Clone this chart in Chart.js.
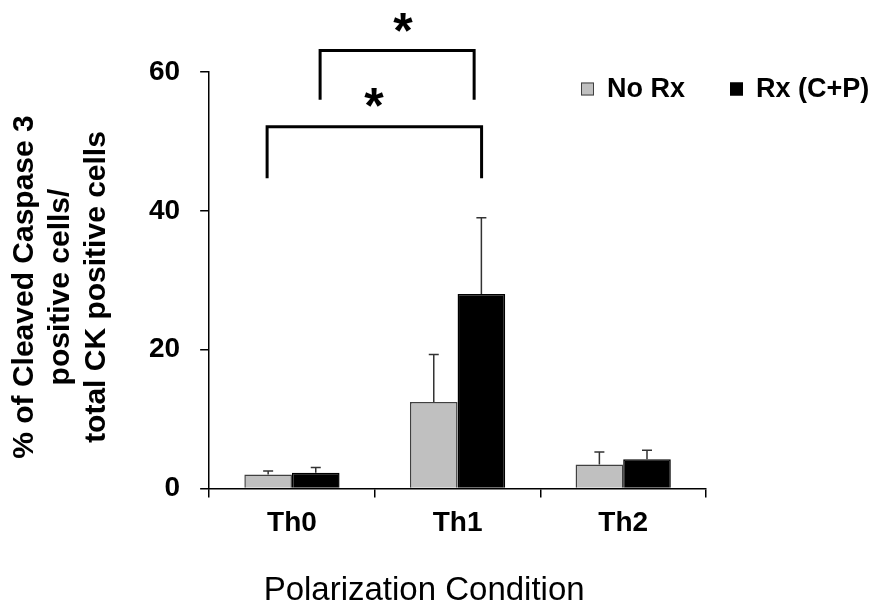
<!DOCTYPE html>
<html><head><meta charset="utf-8">
<script src="https://cdn.jsdelivr.net/npm/chart.js@4.4.0/dist/chart.umd.min.js"></script>
<style>html,body{margin:0;padding:0;background:#fff;} canvas{display:block;}</style>
</head><body>
<canvas id="c" width="882" height="603"></canvas>
<script>
// ---- data ----
const categories = ['Th0', 'Th1', 'Th2'];
const seriesNames = ['No Rx', 'Rx (C+P)'];
const noRxValues = [2.0, 12.45, 3.45];
const noRxErrors = [0.5, 6.85, 1.8];
const rxValues = [2.25, 28.0, 4.2];
const rxErrors = [0.75, 11.0, 1.3];
const yTickValues = [0, 20, 40, 60];
// significance brackets, in category units (x) and value units (y)
const bracketFrom = [-0.15, 0.17];
const bracketTo = [1.145, 1.10];
const bracketLow = [44.7, 56.0];
const bracketHigh = [52.1, 63.1];
const starX = [0.495, 0.67];
const starY = [56.3, 67.1];
const starText = ['*', '*'];
const yTitle = ['% of Cleaved Caspase 3', 'positive cells/', 'total CK positive cells'];
const xTitle = 'Polarization Condition';

const FONT = "'Liberation Sans', Arial, Helvetica, sans-serif";
const colors = ['#C0C0C0', '#000000'];
const borders = ['#404040', '#000000'];

const overlay = {
  id: 'overlay',
  afterDatasetsDraw(chart) {
    const ctx = chart.ctx, ys = chart.scales.y;
    const errs = [noRxErrors, rxErrors];
    ctx.save();
    ctx.strokeStyle = '#333';
    ctx.lineWidth = 1.5;
    chart.data.datasets.forEach((ds, d) => {
      chart.getDatasetMeta(d).data.forEach((el, i) => {
        const top = ys.getPixelForValue(ds.data[i] + errs[d][i]);
        ctx.beginPath();
        ctx.moveTo(el.x, el.y);
        ctx.lineTo(el.x, top);
        ctx.moveTo(el.x - 5, top);
        ctx.lineTo(el.x + 5, top);
        ctx.stroke();
      });
    });
    ctx.restore();
  },
  afterDraw(chart) {
    const ctx = chart.ctx, xs = chart.scales.x, ys = chart.scales.y;
    const ca = chart.chartArea;
    const cw = xs.getPixelForValue(1) - xs.getPixelForValue(0);
    const px = v => xs.getPixelForValue(0) + v * cw;
    ctx.save();
    ctx.strokeStyle = '#000';
    ctx.lineWidth = 3;
    ctx.lineJoin = 'miter';
    for (let b = 0; b < bracketFrom.length; b++) {
      const x1 = px(bracketFrom[b]), x2 = px(bracketTo[b]);
      const yl = ys.getPixelForValue(bracketLow[b]), yh = ys.getPixelForValue(bracketHigh[b]);
      ctx.beginPath();
      ctx.moveTo(x1, yl); ctx.lineTo(x1, yh); ctx.lineTo(x2, yh); ctx.lineTo(x2, yl);
      ctx.stroke();
      ctx.font = 'bold 50px ' + FONT;
      ctx.fillStyle = '#000';
      ctx.textAlign = 'center';
      ctx.textBaseline = 'alphabetic';
      const m = ctx.measureText(starText[b]);
      const yc = ys.getPixelForValue(starY[b]);
      ctx.fillText(starText[b], px(starX[b]), yc + (m.actualBoundingBoxAscent - m.actualBoundingBoxDescent) / 2);
    }
    // legend
    const lx = [ca.right - 125, ca.right + 24];
    const ly = ca.top + 17;
    ctx.font = 'bold 27px ' + FONT;
    ctx.textAlign = 'left';
    ctx.textBaseline = 'middle';
    for (let d = 0; d < seriesNames.length; d++) {
      ctx.fillStyle = colors[d];
      ctx.fillRect(lx[d], ly - 6.5, 13, 13);
      ctx.lineWidth = 1;
      ctx.strokeStyle = borders[d];
      ctx.strokeRect(lx[d] + 0.5, ly - 6, 12, 12);
      ctx.fillStyle = '#000';
      ctx.fillText(seriesNames[d], lx[d] + 26, ly + 1);
    }
    // x axis title
    ctx.fillStyle = '#000';
    ctx.font = '33px ' + FONT;
    ctx.textAlign = 'center';
    ctx.textBaseline = 'alphabetic';
    ctx.fillText(xTitle, ca.left + 215, ca.bottom + 112);
    // y axis title (rotated, three lines)
    ctx.save();
    ctx.translate(ca.left - 184, ca.top + 215);
    ctx.rotate(-Math.PI / 2);
    ctx.font = 'bold 30px ' + FONT;
    ctx.textAlign = 'center';
    ctx.textBaseline = 'middle';
    yTitle.forEach((t, i) => ctx.fillText(t, 0, i * 36));
    ctx.restore();
    ctx.restore();
  }
};

new Chart(document.getElementById('c'), {
  type: 'bar',
  data: {
    labels: categories,
    datasets: [
      { label: seriesNames[0], data: noRxValues, backgroundColor: colors[0], borderColor: borders[0], borderWidth: 1.5 },
      { label: seriesNames[1], data: rxValues, backgroundColor: colors[1], borderColor: borders[1], borderWidth: 1.5 }
    ]
  },
  options: {
    responsive: false,
    animation: false,
    devicePixelRatio: 1,
    categoryPercentage: 0.575,
    barPercentage: 1.0,
    layout: { padding: { left: 129, right: 176, top: 72, bottom: 54 } },
    plugins: { legend: { display: false }, tooltip: { enabled: false } },
    scales: {
      x: {
        grid: { display: true, drawOnChartArea: false, drawTicks: true, tickLength: 9, color: '#000', lineWidth: 1.5, offset: true },
        border: { display: true, color: '#000', width: 1.5 },
        ticks: { color: '#000', padding: 9, font: { family: FONT, size: 28, weight: 'bold' } },
        title: { display: false }
      },
      y: {
        min: 0, max: 60,
        afterBuildTicks(scale) { scale.ticks = yTickValues.map(v => ({ value: v })); },
        grid: { display: true, drawOnChartArea: false, drawTicks: true, tickLength: 9, color: '#000', lineWidth: 1.5 },
        border: { display: true, color: '#000', width: 1.5 },
        ticks: { color: '#000', padding: 20, font: { family: FONT, size: 28, weight: 'bold' } },
        title: { display: false }
      }
    }
  },
  plugins: [overlay]
});
</script>
</body></html>
